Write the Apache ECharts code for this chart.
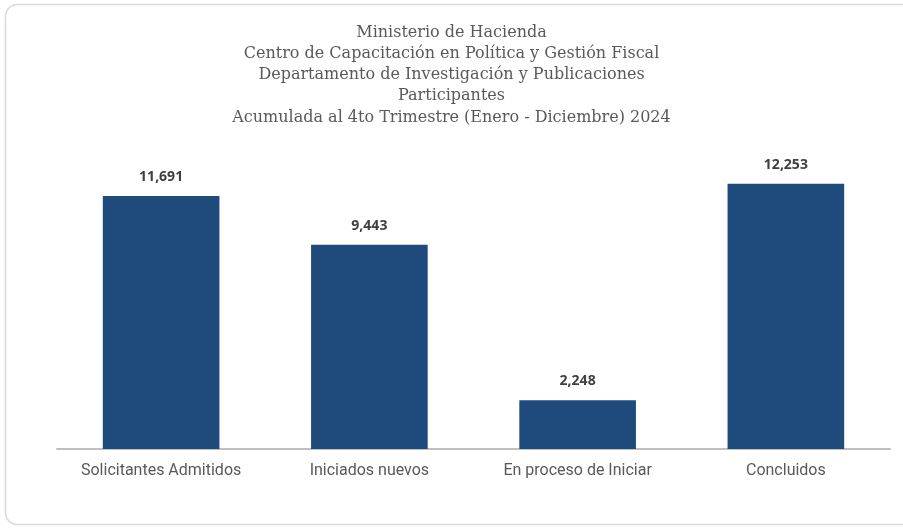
<!DOCTYPE html>
<html>
<head>
<meta charset="utf-8">
<script src="https://cdn.jsdelivr.net/npm/echarts@6/dist/echarts.min.js"></script>
<style>
  html, body { margin: 0; padding: 0; background: #fff; }
  #chart { width: 903px; height: 528px; }
</style>
</head>
<body>
<div id="chart"></div>
<script>
const titleLines = [
  'Ministerio de Hacienda',
  'Centro de Capacitación en Política y Gestión Fiscal',
  'Departamento de Investigación y Publicaciones',
  'Participantes',
  'Acumulada al 4to Trimestre (Enero - Diciembre) 2024'
]
const categories = ['Solicitantes Admitidos', 'Iniciados nuevos', 'En proceso de Iniciar', 'Concluidos']
const participantes = [11691, 9443, 2248, 12253]

const chart = echarts.init(document.getElementById('chart'))

chart.setOption({
  animation: false,
  title: {
    text: titleLines.join('\n'),
    left: 'center',
    top: 17,
    textStyle: {
      fontFamily: '"DejaVu Serif", serif',
      fontSize: 16,
      fontWeight: 'normal',
      color: '#595959',
      lineHeight: 21.2
    }
  },
  graphic: [
    {
      type: 'rect',
      shape: { x: 5.5, y: 4.5, width: 910, height: 520, r: 12 },
      style: { fill: 'none', stroke: '#d9d9d9', lineWidth: 1.5 },
      silent: true,
      z: -1
    }
  ],
  grid: { left: 57, right: 13, top: 146, bottom: 79 },
  xAxis: {
    type: 'category',
    data: categories,
    axisLine: { lineStyle: { color: '#bfbfbf', width: 2 } },
    axisTick: { show: false },
    axisLabel: {
      interval: 0,
      color: '#595959',
      fontFamily: 'Roboto, sans-serif',
      fontSize: 16,
      margin: 14
    }
  },
  yAxis: {
    type: 'value',
    min: 0,
    max: 14000,
    show: false,
    splitLine: { show: false }
  },
  series: [
    {
      type: 'bar',
      data: participantes,
      barWidth: '56%',
      itemStyle: { color: '#1f4a7c' },
      label: {
        show: true,
        position: 'top',
        distance: 12,
        color: '#404040',
        fontWeight: 'bold',
        fontSize: 14,
        fontFamily: '"Open Sans", sans-serif',
        formatter: (p) => p.value.toLocaleString('en-US')
      }
    }
  ]
})
</script>
</body>
</html>
